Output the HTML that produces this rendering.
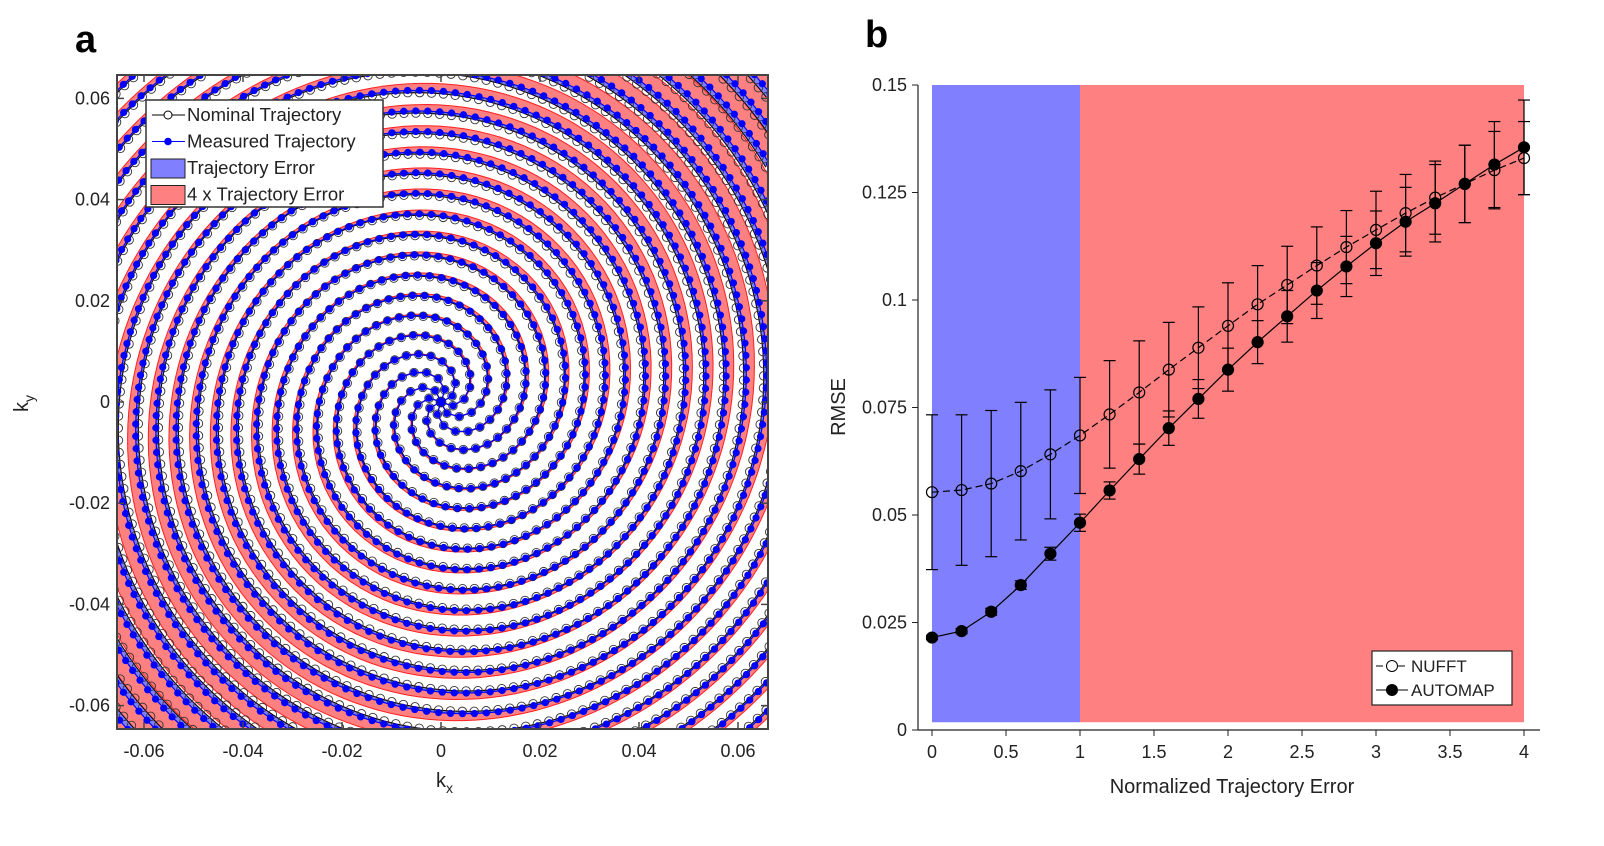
<!DOCTYPE html>
<html><head><meta charset="utf-8"><style>
html,body{margin:0;padding:0;background:#fff;overflow:hidden;width:1604px;height:846px;}
svg{display:block;font-family:"Liberation Sans",sans-serif;}
</style></head><body>
<svg id="fig" width="1604" height="846" viewBox="0 0 1604 846">
<defs><clipPath id="clipA"><rect x="117" y="75" width="651" height="654"/></clipPath></defs>
<text x="75" y="52" font-size="38" font-weight="bold">a</text>
<text x="865" y="47" font-size="38" font-weight="bold">b</text>
<g id="pa"></g>
<g id="pb"></g>
</svg>
<script>
const NS="http://www.w3.org/2000/svg";
function mk(tag,attrs,parent){const e=document.createElementNS(NS,tag);for(const k in attrs)e.setAttribute(k,attrs[k]);parent.appendChild(e);return e;}

// ---------- Panel a data ----------
const spiralArms=[8];
const spiralTurns=[2];
const spiralKmax=[0.065];
const spiralErrAmp=[0.0008];
const aTicks=[-0.06,-0.04,-0.02,0,0.02,0.04,0.06];
const aTickLabels=["-0.06","-0.04","-0.02","0","0.02","0.04","0.06"];

// ---------- Panel b data ----------
const xVals=[0,0.2,0.4,0.6,0.8,1,1.2,1.4,1.6,1.8,2,2.2,2.4,2.6,2.8,3,3.2,3.4,3.6,3.8,4];
const nufft=[0.0553,0.0558,0.0573,0.0602,0.0641,0.0685,0.0734,0.0785,0.0838,0.0889,0.094,0.099,0.1035,0.108,0.1123,0.1163,0.1202,0.1238,0.127,0.1302,0.133];
const nufftErr=[0.018,0.0175,0.017,0.016,0.015,0.0135,0.0125,0.012,0.011,0.0095,0.01,0.009,0.009,0.009,0.0085,0.009,0.009,0.0085,0.009,0.009,0.0085];
const automap=[0.0215,0.023,0.0275,0.0337,0.041,0.0482,0.0557,0.063,0.0702,0.077,0.0838,0.0902,0.0962,0.1022,0.1078,0.1132,0.1182,0.1225,0.127,0.1315,0.1355];
const automapErr=[0.0005,0.0006,0.0008,0.001,0.0015,0.002,0.002,0.0035,0.004,0.0045,0.005,0.005,0.006,0.0065,0.007,0.0075,0.008,0.009,0.009,0.01,0.011];
const bxTicks=[0,0.5,1,1.5,2,2.5,3,3.5,4];
const bxTickLabels=["0","0.5","1","1.5","2","2.5","3","3.5","4"];
const byTicks=[0,0.025,0.05,0.075,0.1,0.125,0.15];
const byTickLabels=["0","0.025","0.05","0.075","0.1","0.125","0.15"];
const errRegions=[[0,1],[1,4]];

// ---------- Panel a ----------
(function(){
const g=document.getElementById('pa');
const ax=v=>441+v*4950, ay=v=>402-v*5060;
const clip=mk('g',{'clip-path':'url(#clipA)'},g);
const redG=mk('g',{},clip),blueG=mk('g',{},clip),nomG=mk('g',{},clip),meaG=mk('g',{},clip);
const N=spiralArms[0],T=spiralTurns[0],K=spiralKmax[0],A=spiralErrAmp[0];
const tMax=0.094/K;
const inside=p=>Math.abs(p[0])<0.0668&&Math.abs(p[1])<0.0663;
const P=arr=>arr.map(p=>ax(p[0]).toFixed(1)+','+ay(p[1]).toFixed(1));
function drawSeg(nom,mea,m4){
  if(nom.length<2)return;
  const red=mk('polygon',{points:P(nom).concat(P(m4).reverse()).join(' '),fill:'#ff8080',stroke:'#ff2020','stroke-width':1},redG);
  
  
  const blu=mk('polygon',{points:P(nom).concat(P(mea).reverse()).join(' '),fill:'#8080ff',stroke:'none'},blueG);
  
  
  const nl=mk('polyline',{points:P(nom).join(' '),fill:'none',stroke:'#000','stroke-width':1},nomG);
  
  
  nom.forEach(p=>mk('circle',{cx:ax(p[0]),cy:ay(p[1]),r:4.3,fill:'none',stroke:'#333','stroke-width':0.9},nomG));
  const ml=mk('polyline',{points:P(mea).join(' '),fill:'none',stroke:'#0000ff','stroke-width':1.2},meaG);
  
  
  mea.forEach(p=>mk('circle',{cx:ax(p[0]),cy:ay(p[1]),r:3.6,fill:'#0000ff'},meaG));
}
for(let a=0;a<N;a++){
  const th0=a*2*Math.PI/N;
  let nom=[],mea=[],m4=[];
  let t=0.002;
  while(t<tMax){
    const r=K*t,th=th0+2*Math.PI*T*t;
    const e=A*(r/K)*(0.65+0.35*Math.cos(2*(th-Math.PI/4)));
    const pn=[r*Math.cos(th),r*Math.sin(th)];
    if(inside(pn)){
      nom.push(pn);
      mea.push([(r+e)*Math.cos(th),(r+e)*Math.sin(th)]);
      m4.push([(r+4*e)*Math.cos(th),(r+4*e)*Math.sin(th)]);
    } else if(nom.length){drawSeg(nom,mea,m4);nom=[];mea=[];m4=[];}
    const ds=0.0024;
    t+=ds/Math.sqrt(K*K+Math.pow(r*2*Math.PI*T,2));
  }
  drawSeg(nom,mea,m4);
}
mk('rect',{x:117,y:75,width:651,height:654,fill:'none',stroke:'#444','stroke-width':2},g);
aTicks.forEach((v,i)=>{
  const x=ax(v),y=ay(v);
  mk('line',{x1:x,y1:729,x2:x,y2:722,stroke:'#444','stroke-width':1.5},g);
  mk('line',{x1:x,y1:75,x2:x,y2:82,stroke:'#444','stroke-width':1.5},g);
  mk('line',{x1:117,y1:y,x2:124,y2:y,stroke:'#444','stroke-width':1.5},g);
  mk('line',{x1:768,y1:y,x2:761,y2:y,stroke:'#444','stroke-width':1.5},g);
  const tx=mk('text',{x:x,y:757,'font-size':18,'text-anchor':'middle',fill:'#222'},g);tx.textContent=aTickLabels[i];
  
  const ty=mk('text',{x:110,y:y+6,'font-size':18,'text-anchor':'end',fill:'#222'},g);ty.textContent=aTickLabels[i];
  
});
const xl=mk('text',{x:436,y:787,'font-size':20,fill:'#222'},g);xl.innerHTML='k<tspan font-size="14" dy="6">x</tspan>';

const yl=mk('text',{x:0,y:0,'font-size':20,fill:'#222',transform:'translate(28,412) rotate(-90)'},g);yl.innerHTML='k<tspan font-size="14" dy="6">y</tspan>';

const lg=mk('g',{},g);
mk('rect',{x:146,y:100,width:237,height:107,fill:'#fff',stroke:'#333','stroke-width':1.5},lg);
const items=["Nominal Trajectory","Measured Trajectory","Trajectory Error","4 x Trajectory Error"];
items.forEach((s,i)=>{
  const y=115+i*26.5;
  if(i==0){mk('line',{x1:152,y1:y,x2:185,y2:y,stroke:'#000'},lg);mk('circle',{cx:168,cy:y,r:4,fill:'#fff',stroke:'#000'},lg);}
  else if(i==1){mk('line',{x1:152,y1:y,x2:185,y2:y,stroke:'#00f'},lg);mk('circle',{cx:168,cy:y,r:3.8,fill:'#00f'},lg);}
  else mk('rect',{x:151,y:y-9,width:34,height:19,fill:i==2?'#8080ff':'#ff8080',stroke:'#222'},lg);
  const t=mk('text',{x:187,y:y+6,'font-size':18.5,fill:'#222'},lg);t.textContent=s;
  
});
})();

// ---------- Panel b ----------
(function(){
const g=document.getElementById('pb');
const bx=v=>932+v*148, by=v=>730-v*4300;
const cols=['#8080ff','#ff8080'];
errRegions.forEach((r,i)=>{
  const e=mk('rect',{x:bx(r[0]),y:by(0.15),width:bx(r[1])-bx(r[0]),height:by(0.0018)-by(0.15),fill:cols[i]},g);
  
  
});
mk('line',{x1:918,y1:85,x2:918,y2:730,stroke:'#222','stroke-width':1.2},g);
mk('line',{x1:918,y1:730,x2:1540,y2:730,stroke:'#222','stroke-width':1.2},g);
bxTicks.forEach((v,i)=>{
  mk('line',{x1:bx(v),y1:730,x2:bx(v),y2:736,stroke:'#222'},g);
  const t=mk('text',{x:bx(v),y:758,'font-size':18,'text-anchor':'middle',fill:'#222'},g);t.textContent=bxTickLabels[i];
  
});
byTicks.forEach((v,i)=>{
  mk('line',{x1:912,y1:by(v),x2:918,y2:by(v),stroke:'#222'},g);
  const t=mk('text',{x:907,y:by(v)+6,'font-size':18,'text-anchor':'end',fill:'#222'},g);t.textContent=byTickLabels[i];
  
});
const xt=mk('text',{x:1232,y:793,'font-size':20,'text-anchor':'middle',fill:'#222'},g);xt.textContent='Normalized Trajectory Error';

const yt=mk('text',{x:0,y:0,'font-size':20,'text-anchor':'middle',fill:'#222',transform:'translate(845,407) rotate(-90)'},g);yt.textContent='RMSE';

function series(vals,errs,dash,filled,name){
  const sg=mk('g',{},g);
  mk('polyline',{points:xVals.map((x,i)=>bx(x)+','+by(vals[i])).join(' '),fill:'none',stroke:'#000','stroke-width':1.2,'stroke-dasharray':dash},sg);
  xVals.forEach((x,i)=>{
    const X=bx(x),y1=by(vals[i]-errs[i]),y2=by(vals[i]+errs[i]);
    mk('line',{x1:X,y1:y1,x2:X,y2:y2,stroke:'#000','stroke-width':1.2},sg);
    mk('line',{x1:X-6,y1:y1,x2:X+6,y2:y1,stroke:'#000','stroke-width':1.2},sg);
    mk('line',{x1:X-6,y1:y2,x2:X+6,y2:y2,stroke:'#000','stroke-width':1.2},sg);
    const c=mk('circle',{cx:X,cy:by(vals[i]),r:5.5,fill:filled?'#000':'none',stroke:'#000','stroke-width':1.2},sg);
    
  });
}
series(nufft,nufftErr,'7,4',false,'nufft-series');
series(automap,automapErr,'none',true,'automap-series');
const lg=mk('g',{},g);
mk('rect',{x:1372,y:651,width:140,height:54,fill:'#fff',stroke:'#222','stroke-width':1.2},lg);
[['NUFFT',false,'7,4'],['AUTOMAP',true,'none']].forEach((d,i)=>{
  const y=666+i*24;
  mk('line',{x1:1376,y1:y,x2:1408,y2:y,stroke:'#000','stroke-dasharray':d[2]},lg);
  mk('circle',{cx:1392,cy:y,r:5.5,fill:d[1]?'#000':'#fff',stroke:'#000'},lg);
  const t=mk('text',{x:1411,y:y+6,'font-size':17,fill:'#222'},lg);t.textContent=d[0];
  
});
})();
</script>
</body></html>
